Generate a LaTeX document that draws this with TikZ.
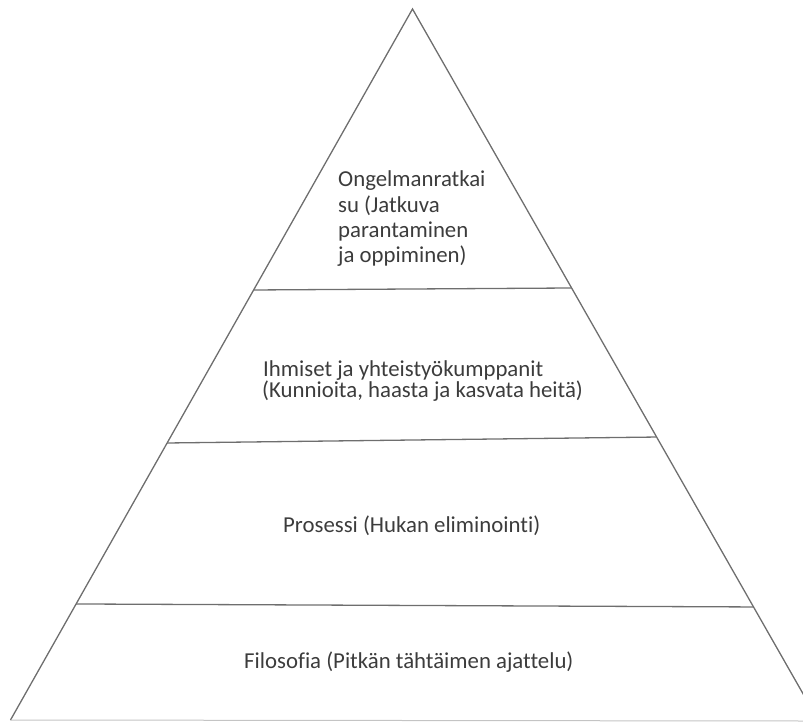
\documentclass[tikz,border=0pt]{standalone}
\usepackage{fontspec}
\setmainfont{Carlito}[Ligatures=NoCommon]
\usetikzlibrary{calc}
\definecolor{edgegray}{HTML}{6E6E6E}
\definecolor{basegray}{HTML}{C4C4C4}
\definecolor{txt}{HTML}{3C3C3C}
\begin{document}
\begin{tikzpicture}[x=1pt,y=-1pt,
  side/.style={draw=edgegray,line width=1.3pt,line join=miter},
  tier/.style={draw=edgegray,line width=1.3pt},
  baseline/.style={draw=basegray,line width=1pt},
  label/.style={font=\fontsize{22.8}{25}\selectfont,text=txt,inner sep=0pt,anchor=base west}]
\useasboundingbox (0,0) rectangle (803,722);
\clip (0,0) rectangle (803,722);
% pyramid outline
\coordinate (apex) at (412.5,9);
\coordinate (bl) at (10.5,720);
\coordinate (br) at (818,720);
\draw[side] (bl) -- (apex) -- (br);
\draw[baseline] (bl) -- (803,721);
% tier separators
\draw[tier] ($(apex)!0.3952!(bl)$) -- ($(apex)!0.3924!(br)$);
\draw[tier] ($(apex)!0.6104!(bl)$) -- ($(apex)!0.6020!(br)$);
\draw[tier] ($(apex)!0.8368!(bl)$) -- ($(apex)!0.8410!(br)$);
% tier labels
\node[label] (t1) at (338,187) {Ongelmanratkai};
\node[label] (t2) at (338,212) {su (Jatkuva};
\node[label] (t3) at (338,237) {parantaminen};
\node[label] (t4) at (338,262) {ja oppiminen)};
\node[label] (m1) at (263,376) {Ihmiset ja yhteistyökumppanit};
\node[label] (m2) at (262,397) {(Kunnioita, haasta ja kasvata heitä)};
\node[label] (p1) at (283,532) {Prosessi (Hukan eliminointi)};
\node[label] (f1) at (244,668) {Filosofia (Pitkän tähtäimen ajattelu)};
\end{tikzpicture}
\end{document}
